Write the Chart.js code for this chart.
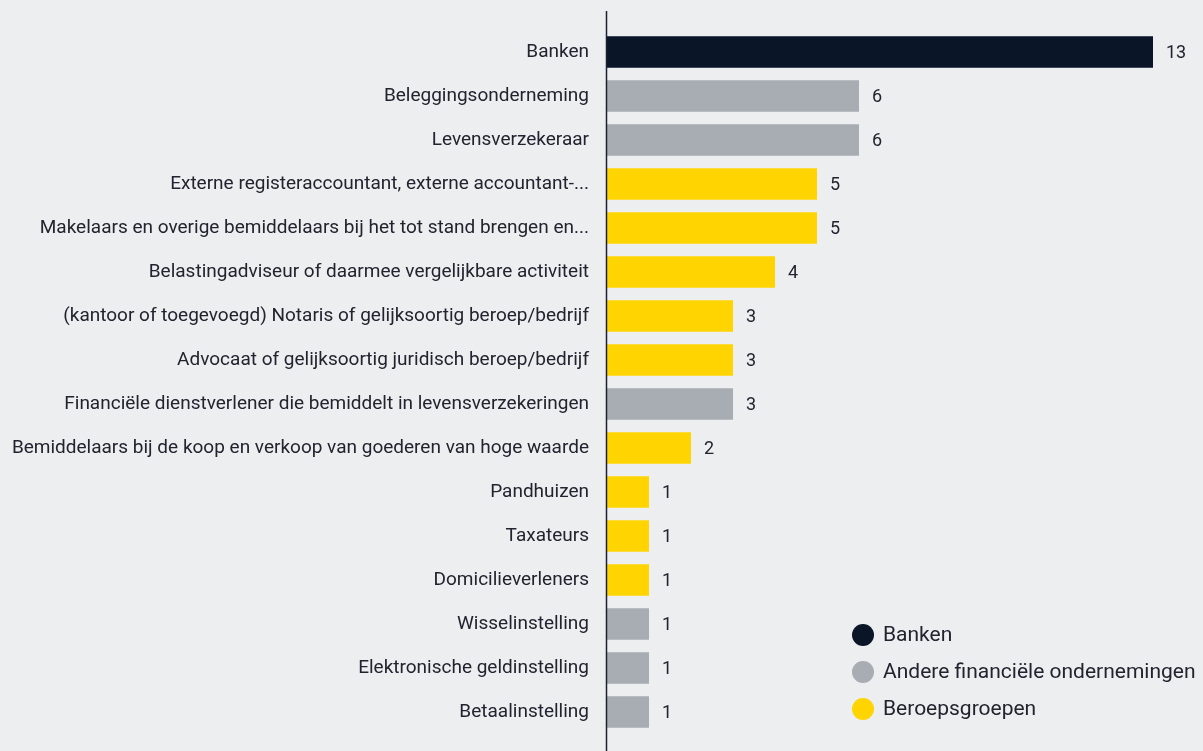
<!DOCTYPE html>
<html>
<head>
<meta charset="utf-8">
<script src="https://cdn.jsdelivr.net/npm/chart.js@4.4.1/dist/chart.umd.min.js"></script>
<style>
  html, body { margin: 0; padding: 0; background: #ECEEF0; }
  #wrap { position: relative; width: 1203px; height: 751px; }
</style>
</head>
<body>
<div id="wrap"><canvas id="chart"></canvas></div>
<script>
var categories = [
  'Banken',
  'Beleggingsonderneming',
  'Levensverzekeraar',
  'Externe registeraccountant, externe accountant-...',
  'Makelaars en overige bemiddelaars bij het tot stand brengen en...',
  'Belastingadviseur of daarmee vergelijkbare activiteit',
  '(kantoor of toegevoegd) Notaris of gelijksoortig beroep/bedrijf',
  'Advocaat of gelijksoortig juridisch beroep/bedrijf',
  'Financiële dienstverlener die bemiddelt in levensverzekeringen',
  'Bemiddelaars bij de koop en verkoop van goederen van hoge waarde',
  'Pandhuizen',
  'Taxateurs',
  'Domicilieverleners',
  'Wisselinstelling',
  'Elektronische geldinstelling',
  'Betaalinstelling'
];
var values = [13, 6, 6, 5, 5, 4, 3, 3, 3, 2, 1, 1, 1, 1, 1, 1];
// 0 = Banken, 1 = Andere financiële ondernemingen, 2 = Beroepsgroepen
var groups = [0, 1, 1, 2, 2, 2, 2, 2, 1, 2, 2, 2, 2, 1, 1, 1];
var groupNames = ['Banken', 'Andere financiële ondernemingen', 'Beroepsgroepen'];
var groupColors = ['#0A1527', '#A8ADB3', '#FFD400'];

var textColor = '#23232F';
var fontFamily = 'Roboto, "Open Sans", sans-serif';

// value labels at the end of the bars
const valueLabels = {
  id: 'valueLabels',
  afterDatasetsDraw(chart) {
    const ctx = chart.ctx;
    const meta = chart.getDatasetMeta(0);
    ctx.save();
    ctx.font = '18px ' + fontFamily;
    ctx.fillStyle = textColor;
    ctx.textAlign = 'left';
    ctx.textBaseline = 'middle';
    meta.data.forEach(function (bar, i) {
      ctx.fillText(String(values[i]), bar.x + 13, bar.y + 1);
    });
    ctx.restore();
  }
};

// vertical axis line, runs past the bars to the bottom
const axisLine = {
  id: 'axisLine',
  afterDraw(chart) {
    const ctx = chart.ctx;
    const x = chart.chartArea.left - 0.5;
    ctx.save();
    ctx.strokeStyle = '#1A2030';
    ctx.lineWidth = 1.5;
    ctx.beginPath();
    ctx.moveTo(x, 11);
    ctx.lineTo(x, chart.height);
    ctx.stroke();
    ctx.restore();
  }
};

// legend in the lower right corner
const dotLegend = {
  id: 'dotLegend',
  afterDraw(chart) {
    const ctx = chart.ctx;
    ctx.save();
    ctx.font = '21px ' + fontFamily;
    ctx.textAlign = 'left';
    ctx.textBaseline = 'middle';
    for (let i = 0; i < groupNames.length; i++) {
      let cy = 635 + i * 37;
      ctx.fillStyle = groupColors[i];
      ctx.beginPath();
      ctx.arc(863, cy, 11, 0, Math.PI * 2);
      ctx.fill();
      ctx.fillStyle = textColor;
      ctx.fillText(groupNames[i], 883, cy + 1);
    }
    ctx.restore();
  }
};

const data = {
  labels: categories,
  datasets: [{
    data: values,
    backgroundColor: groups.map(g => groupColors[g]),
    borderWidth: 0,
    categoryPercentage: 1,
    barPercentage: 0.72
  }]
};

const config = {
  type: 'bar',
  data: data,
  options: {
    indexAxis: 'y',
    responsive: true,
    maintainAspectRatio: false,
    animation: false,
    layout: { padding: { top: 30, bottom: 17, right: 50, left: 0 } },
    scales: {
      x: {
        display: false,
        min: 0,
        max: 13
      },
      y: {
        grid: { display: false, drawTicks: false },
        border: { display: false },
        ticks: {
          color: textColor,
          padding: 18,
          autoSkip: false,
          font: { size: 19, family: fontFamily }
        },
        afterFit(scale) {
          scale.width = 607;
          scale.paddingTop = 0;
          scale.paddingBottom = 0;
        }
      }
    },
    plugins: {
      legend: { display: false },
      tooltip: { enabled: false }
    }
  },
  plugins: [valueLabels, axisLine, dotLegend]
};

const myChart = new Chart(document.getElementById('chart'), config);
</script>
</body>
</html>
